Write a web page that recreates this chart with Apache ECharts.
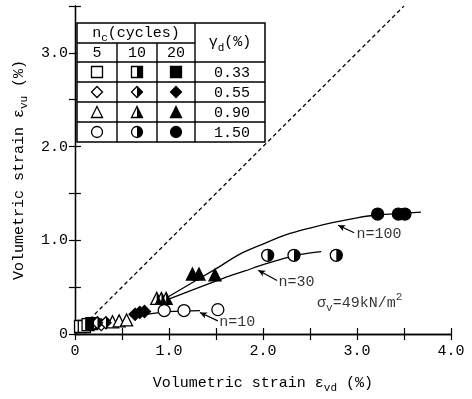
<!DOCTYPE html>
<html><head><meta charset="utf-8">
<script src="https://cdn.jsdelivr.net/npm/echarts@6/dist/echarts.min.js"></script>
<style>html,body{margin:0;padding:0;background:#fff}#c{width:472px;height:399px}</style>
</head><body><div id="c"></div>
<script>
// ---- data ----
const xTickValues = [0, 1.0, 2.0, 3.0, 4.0];
const yTickValues = [0, 1.0, 2.0, 3.0];
const cycles = ['5', '10', '20'];
const gammaLabels = ['0.33', '0.55', '0.90', '1.50'];
// gamma 0.33 (squares)
const sqOpen = [[0.06, 0.08], [0.10, 0.08]];
const sqHalf = [[0.14, 0.10]];
const sqFull = [[0.18, 0.11]];
// gamma 0.55 (diamonds)
const diOpen = [[0.20, 0.11], [0.28, 0.10]];
const diHalf = [[0.24, 0.12], [0.33, 0.12]];
const diFull = [[0.64, 0.21], [0.69, 0.23], [0.74, 0.24]];
// gamma 0.90 (triangles)
const trOpen = [[0.40, 0.13], [0.47, 0.14], [0.55, 0.15]];
const trHalf = [[0.87, 0.38], [0.92, 0.38], [0.97, 0.38]];
const trFull = [[1.25, 0.64], [1.32, 0.64], [1.49, 0.63]];
// gamma 1.50 (circles)
const ciOpen = [[0.95, 0.25], [1.16, 0.25], [1.52, 0.26]];
const ciHalf = [[2.05, 0.84], [2.33, 0.84], [2.78, 0.84]];
const ciFull = [[3.22, 1.28], [3.44, 1.28], [3.51, 1.28]];
// curves
const curveN10 = [[0.72, 0.20], [0.95, 0.235], [1.16, 0.245], [1.33, 0.25]];
const curveN30 = [[0.99, 0.37], [1.59, 0.60], [1.80, 0.67], [2.00, 0.74], [2.20, 0.80], [2.40, 0.85], [2.62, 0.88]];
const curveN100 = [[0.98, 0.39], [1.49, 0.69], [1.75, 0.85], [2.00, 0.96], [2.25, 1.06], [2.50, 1.13], [2.75, 1.19], [3.00, 1.24], [3.22, 1.27], [3.68, 1.30]];
const oneToOne = [[0, 0], [3.5, 3.5]];
// annotations
const labelN10 = [1.53, 0.13];
const labelN30 = [2.16, 0.55];
const labelN100 = [2.99, 1.07];
const labelSigma = [2.57, 0.33];
const leaderN10 = [[1.52, 0.14], [1.33, 0.23]];
const leaderN30 = [[2.15, 0.57], [1.95, 0.68]];
const leaderN100 = [[2.97, 1.08], [2.80, 1.16]];

const FONT = '"Liberation Mono", "DejaVu Sans Mono", monospace';
const BLACK = '#000';
const S = 12;

const halfPaths = {
  rect: 'path://M0,0 L10,0 L10,20 L0,20 Z',
  circle: 'path://M0,0 A10,10 0 0 1 0,20 Z',
  diamond: 'path://M0,0 L10,10 L0,20 Z',
  triangle: 'path://M0,0 L10,20 L0,20 Z'
};

function scat(data, symbol, fill) {
  const arr = [];
  arr.push({
    type: 'scatter', data: data, symbol: symbol, symbolSize: S, z: 5,
    itemStyle: { color: fill === 'full' ? BLACK : '#fff', borderColor: BLACK, borderWidth: 1.3, opacity: 1 },
    silent: true
  });
  if (fill === 'half') {
    arr.push({
      type: 'scatter', data: data, symbol: halfPaths[symbol], symbolSize: [S / 2, S],
      symbolOffset: [S / 4, 0], z: 6,
      itemStyle: { color: BLACK, opacity: 1 }, silent: true
    });
  }
  return arr;
}

function curve(data, dashed) {
  return {
    type: 'line', data: data, showSymbol: false, smooth: dashed ? false : 0.3, z: 3,
    lineStyle: { color: BLACK, width: 1.3, type: dashed ? [4, 3] : 'solid' },
    silent: true
  };
}

function textSeries(pos, text) {
  return {
    type: 'scatter', data: [pos], symbolSize: 1, z: 7, silent: true,
    itemStyle: { color: 'rgba(0,0,0,0)' },
    label: {
      show: true, position: 'right', distance: 0, formatter: text,
      fontFamily: FONT, fontSize: 15, color: BLACK, lineHeight: 22,
      rich: {
        sub: { fontFamily: FONT, fontSize: 11, color: BLACK, verticalAlign: 'bottom', lineHeight: 12 },
        sup: { fontFamily: FONT, fontSize: 11, color: BLACK, verticalAlign: 'top', lineHeight: 12 }
      }
    }
  };
}

// ---- table legend graphic ----
const colX = [77, 117, 157, 195, 265];
const rowY = [23, 43, 62, 82, 102, 122, 142];
const shapes = ['rect', 'diamond', 'triangle', 'circle'];
const fills = ['open', 'half', 'full'];

function tableSymbol(shape, fill, cx, cy, s) {
  const els = [];
  const st = { fill: fill === 'full' ? BLACK : '#fff', stroke: BLACK, lineWidth: 1.3 };
  const h = s / 2;
  let base;
  if (shape === 'rect') base = { type: 'rect', shape: { x: cx - h, y: cy - h, width: s, height: s } };
  else if (shape === 'circle') base = { type: 'circle', shape: { cx: cx, cy: cy, r: h } };
  else if (shape === 'diamond') base = { type: 'polygon', shape: { points: [[cx, cy - h], [cx + h, cy], [cx, cy + h], [cx - h, cy]] } };
  else base = { type: 'polygon', shape: { points: [[cx, cy - h], [cx + h, cy + h], [cx - h, cy + h]] } };
  base.style = st; base.z = 101;
  els.push(base);
  if (fill === 'half') {
    let hf;
    if (shape === 'rect') hf = { type: 'rect', shape: { x: cx, y: cy - h, width: h, height: s } };
    else if (shape === 'circle') hf = { type: 'sector', shape: { cx: cx, cy: cy, r: h, r0: 0, startAngle: -Math.PI / 2, endAngle: Math.PI / 2 } };
    else if (shape === 'diamond') hf = { type: 'polygon', shape: { points: [[cx, cy - h], [cx + h, cy], [cx, cy + h]] } };
    else hf = { type: 'polygon', shape: { points: [[cx, cy - h], [cx + h, cy + h], [cx, cy + h]] } };
    hf.style = { fill: BLACK }; hf.z = 102;
    els.push(hf);
  }
  return els;
}

function ttext(x, y, text) {
  return {
    type: 'text', z: 103,
    style: {
      text: text, x: x, y: y, textAlign: 'center', textVerticalAlign: 'middle',
      font: '15px ' + FONT, fill: BLACK, lineHeight: 22,
      rich: { sub: { fontSize: 11, fontFamily: FONT, verticalAlign: 'bottom', lineHeight: 12, fill: BLACK } }
    }
  };
}

const tableEls = [];
tableEls.push({ type: 'rect', z: 100, shape: { x: colX[0], y: rowY[0], width: colX[4] - colX[0], height: rowY[6] - rowY[0] }, style: { fill: '#fff', stroke: BLACK, lineWidth: 1.5 } });
function hl(x1, x2, y) { tableEls.push({ type: 'line', z: 104, shape: { x1: x1, y1: y, x2: x2, y2: y }, style: { stroke: BLACK, lineWidth: 1.4 } }); }
function vl(x, y1, y2) { tableEls.push({ type: 'line', z: 104, shape: { x1: x, y1: y1, x2: x, y2: y2 }, style: { stroke: BLACK, lineWidth: 1.4 } }); }
hl(colX[0], colX[3], rowY[1]);
for (let r = 2; r <= 5; r++) hl(colX[0], colX[4], rowY[r]);
vl(colX[1], rowY[1], rowY[6]);
vl(colX[2], rowY[1], rowY[6]);
vl(colX[3], rowY[0], rowY[6]);
tableEls.push(ttext((colX[0] + colX[3]) / 2, (rowY[0] + rowY[1]) / 2, 'n{sub|c}(cycles)'));
tableEls.push(ttext((colX[3] + colX[4]) / 2, (rowY[0] + rowY[2]) / 2, 'γ{sub|d}(%)'));
for (let c = 0; c < 3; c++) tableEls.push(ttext((colX[c] + colX[c + 1]) / 2, (rowY[1] + rowY[2]) / 2 + 1, cycles[c]));
for (let r = 0; r < 4; r++) {
  const cy = (rowY[r + 2] + rowY[r + 3]) / 2;
  for (let c = 0; c < 3; c++) {
    tableSymbol(shapes[r], fills[c], (colX[c] + colX[c + 1]) / 2, cy, 11).forEach(e => tableEls.push(e));
  }
  tableEls.push(ttext((colX[3] + colX[4]) / 2 + 2, cy + 1, gammaLabels[r]));
}

// ---- chart ----
function fmtTick(list) {
  return function (v) {
    for (const t of list) if (Math.abs(v - t) < 1e-9) return t === 0 ? '0' : t.toFixed(1);
    return '';
  };
}
const axisLineStyle = { color: BLACK, width: 1.3 };
const tick = { show: true, inside: true, length: 6, lineStyle: { color: BLACK, width: 1.2 } };

const series = [].concat(
  [curve(oneToOne, true), curve(curveN10), curve(curveN30), curve(curveN100)],
  scat(sqOpen, 'rect', 'open'), scat(sqHalf, 'rect', 'half'), scat(sqFull, 'rect', 'full'),
  scat(diOpen, 'diamond', 'open'), scat(diHalf, 'diamond', 'half'), scat(diFull, 'diamond', 'full'),
  scat(trOpen, 'triangle', 'open'), scat(trHalf, 'triangle', 'half'), scat(trFull, 'triangle', 'full'),
  scat(ciOpen, 'circle', 'open'), scat(ciHalf, 'circle', 'half'), scat(ciFull, 'circle', 'full'),
  [
    textSeries(labelN10, 'n=10'),
    textSeries(labelN30, 'n=30'),
    textSeries(labelN100, 'n=100'),
    textSeries(labelSigma, 'σ{sub|v}=49kN/m{sup|2}'),
    {
      type: 'line', data: [], silent: true, z: 4,
      markLine: {
        silent: true, symbol: ['none', 'arrow'], symbolSize: [5, 7], animation: false,
        label: { show: false },
        lineStyle: { color: BLACK, width: 1.2, type: 'solid' },
        data: [
          [{ coord: leaderN10[0] }, { coord: leaderN10[1] }],
          [{ coord: leaderN30[0] }, { coord: leaderN30[1] }],
          [{ coord: leaderN100[0] }, { coord: leaderN100[1] }]
        ]
      }
    }
  ]
);

const chart = echarts.init(document.getElementById('c'), null, { renderer: 'canvas' });
chart.setOption({
  animation: false,
  backgroundColor: '#fff',
  grid: { left: 65, right: 21, top: 6, bottom: 54, containLabel: false },
  xAxis: [{
    type: 'value', min: 0, max: 4, interval: 0.5, position: 'bottom',
    axisLine: { show: true, lineStyle: axisLineStyle }, axisTick: tick, splitLine: { show: false },
    axisLabel: { formatter: fmtTick(xTickValues), fontFamily: FONT, fontSize: 15, color: BLACK, margin: 10 },
    name: 'Volumetric strain ε{sub|vd} (%)', nameLocation: 'middle', nameGap: 38,
    nameTextStyle: { fontFamily: FONT, fontSize: 15, color: BLACK, lineHeight: 22,
      rich: { sub: { fontFamily: FONT, fontSize: 11, color: BLACK, verticalAlign: 'bottom', lineHeight: 12 } } }
  }, {
    type: 'value', min: 0, max: 4, interval: 0.5, position: 'top',
    axisLine: { show: true, lineStyle: axisLineStyle }, axisTick: tick, splitLine: { show: false },
    axisLabel: { show: false }
  }],
  yAxis: [{
    type: 'value', min: 0, max: 3.5, interval: 0.5, position: 'left',
    axisLine: { show: true, lineStyle: axisLineStyle }, axisTick: tick, splitLine: { show: false },
    axisLabel: { formatter: fmtTick(yTickValues), fontFamily: FONT, fontSize: 15, color: BLACK, margin: 7 },
    name: 'Volumetric strain ε{sub|vu} (%)', nameLocation: 'middle', nameGap: 41, nameRotate: 90,
    nameTextStyle: { fontFamily: FONT, fontSize: 15, color: BLACK, lineHeight: 22,
      rich: { sub: { fontFamily: FONT, fontSize: 11, color: BLACK, verticalAlign: 'bottom', lineHeight: 12 } } }
  }, {
    type: 'value', min: 0, max: 3.5, interval: 0.5, position: 'right',
    axisLine: { show: true, lineStyle: axisLineStyle }, axisTick: tick, splitLine: { show: false },
    axisLabel: { show: false }
  }],
  graphic: { elements: tableEls },
  series: series
});
</script>
</body></html>
